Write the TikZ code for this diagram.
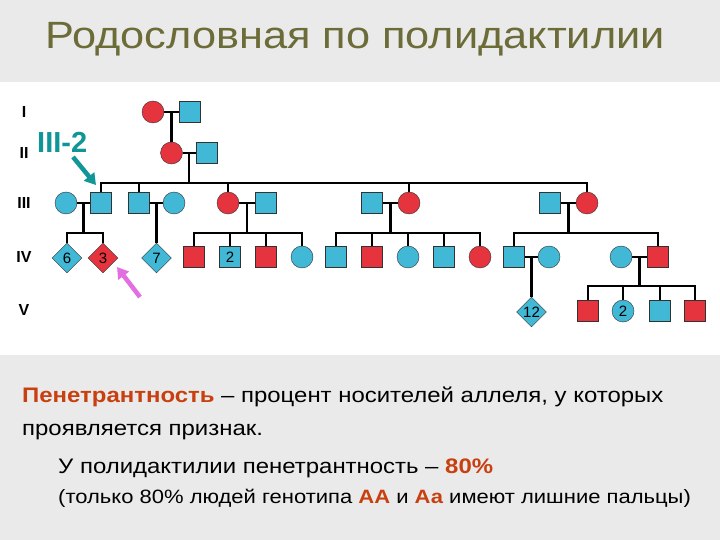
\documentclass[tikz,border=0pt]{standalone}
\usepackage{fontspec}
\setmainfont{Liberation Sans}
\newfontfamily\slidefont{Liberation Sans}[FakeStretch=1.14]
\usetikzlibrary{shapes.geometric,arrows.meta,positioning,calc}
\definecolor{PanelGray}{RGB}{234,234,234}
\definecolor{TitleOlive}{RGB}{108,108,56}
\definecolor{AccentRed}{RGB}{200,64,16}
\definecolor{SymBlue}{RGB}{64,184,214}
\definecolor{SymRed}{RGB}{230,52,62}
\definecolor{EdgeGray}{RGB}{50,50,50}
\definecolor{MarkTeal}{RGB}{16,150,150}
\definecolor{MarkPink}{RGB}{226,110,226}

\tikzset{
  male/.style={rectangle, draw=EdgeGray, fill=#1, minimum size=21pt, inner sep=0pt, font=\fontsize{15}{15}\selectfont},
  female/.style={circle, draw=EdgeGray, fill=#1, minimum size=22pt, inner sep=0pt, font=\fontsize{15}{15}\selectfont},
  sibs/.style={diamond, draw=EdgeGray, fill=#1, minimum size=30pt, inner sep=0pt, font=\fontsize{15}{15}\selectfont},
  kin/.style={line width=2.2pt, black},
  gen/.style={font=\bfseries\fontsize{16}{16}\selectfont},
  pointer/.style={line width=4.5pt, -{Triangle[length=11pt,width=13pt]}},
}

\begin{document}
\begin{tikzpicture}[x=1pt, y=-1pt]
  % Background
  \fill[PanelGray] (0,0) rectangle (720,540);
  \fill[white] (0,82) rectangle (720,355);
  \useasboundingbox (0,0) rectangle (720,540);

  % Title
  \node[anchor=base west, inner sep=0pt, TitleOlive, font=\slidefont\fontsize{38}{38}\selectfont] (title) at (45,49) {Родословная по полидактилии};

  % Generation labels
  \foreach \g/\y in {I/112, II/153, III/203, IV/257, V/310}
    \node[gen] (gen\g) at (24,\y) {\g};

  % Generation I and II
  \node[female=SymRed] (I1) at (153,112) {};
  \node[male=SymBlue] (I2) at (190,112) {};
  \node[female=SymRed] (II1) at (171.5,153) {};
  \node[male=SymBlue] (II2) at (207,153) {};

  % Generation III
  \node[female=SymBlue] (III1) at (66,203) {};
  \node[male=SymBlue] (III2) at (101,203) {};
  \node[male=SymBlue] (III3) at (139,203) {};
  \node[female=SymBlue] (III4) at (174,203) {};
  \node[female=SymRed] (III5) at (228,203) {};
  \node[male=SymBlue] (III6) at (266,203) {};
  \node[male=SymBlue] (III7) at (372,203) {};
  \node[female=SymRed] (III8) at (409,203) {};
  \node[male=SymBlue] (III9) at (550,203) {};
  \node[female=SymRed] (III10) at (587,203) {};

  % Generation IV
  \node[sibs=SymBlue] (IV1) at (67,258) {6};
  \node[sibs=SymRed] (IV2) at (103,258) {3};
  \node[sibs=SymBlue] (IV3) at (156.5,258) {7};
  \node[male=SymRed] (IV4) at (194,257) {};
  \node[male=SymBlue] (IV5) at (230,257) {2};
  \node[male=SymRed] (IV6) at (266,257) {};
  \node[female=SymBlue] (IV7) at (302,257) {};
  \node[male=SymBlue] (IV8) at (336,257) {};
  \node[male=SymRed] (IV9) at (372,257) {};
  \node[female=SymBlue] (IV10) at (408,257) {};
  \node[male=SymBlue] (IV11) at (444,257) {};
  \node[female=SymRed] (IV12) at (480,257) {};
  \node[male=SymBlue] (IV13) at (514,257) {};
  \node[female=SymBlue] (IV14) at (549,257) {};
  \node[female=SymBlue] (IV15) at (621,257) {};
  \node[male=SymRed] (IV16) at (658,257) {};

  % Generation V
  \node[sibs=SymBlue] (V1) at (531.5,312) {12};
  \node[male=SymRed] (V2) at (588,311) {};
  \node[female=SymBlue] (V3) at (623,311) {2};
  \node[male=SymBlue] (V4) at (660,311) {};
  \node[male=SymRed] (V5) at (695,311) {};

  % Sibship levels
  \coordinate (sIII) at (0,183);
  \coordinate (sIV) at (0,233);
  \coordinate (sV) at (0,286);

  % Couples
  \foreach \a/\b/\m in {I1/I2/mI, II1/II2/mII, III1/III2/m12, III3/III4/m34,
      III5/III6/m56, III7/III8/m78, III9/III10/m910, IV13/IV14/m1314, IV15/IV16/m1516} {
    \draw[kin] (\a) -- (\b);
    \coordinate (\m) at ($(\a)!0.5!(\b)$);
  }

  % Descent lines
  \draw[kin] (mI) -- (II1.north);
  \draw[kin] (m34) -- (IV3.north);
  \draw[kin] (m1314) -- (V1.north);
  \foreach \m/\l/\r/\s in {mII/III2/III10/sIII, m12/IV1/IV2/sIV, m56/IV4/IV7/sIV,
      m78/IV8/IV12/sIV, m910/IV13/IV16/sIV, m1516/V2/V5/sV} {
    \draw[kin] (\m) -- (\m |- \s);
    \draw[kin] ([xshift=-1.1pt]\l.north |- \s) -- ([xshift=1.1pt]\r.north |- \s);
  }
  \foreach \k/\s in {III2/sIII, III3/sIII, III5/sIII, III8/sIII, III10/sIII,
      IV1/sIV, IV2/sIV, IV4/sIV, IV5/sIV, IV6/sIV, IV7/sIV, IV8/sIV, IV9/sIV,
      IV10/sIV, IV11/sIV, IV12/sIV, IV13/sIV, IV16/sIV,
      V2/sV, V3/sV, V4/sV, V5/sV}
    \draw[kin] (\k.north) -- (\k.north |- \s);

  % Proband markers
  \node[MarkTeal, font=\bfseries\fontsize{29}{29}\selectfont, anchor=base west, inner sep=0pt] (lblIII2) at (37,153) {III-2};
  \coordinate (tailT) at (73,157);
  \coordinate (tipT) at (96,185);
  \draw[pointer, MarkTeal] (tailT) -- (tipT);
  \coordinate (tailP) at (140,297);
  \coordinate (tipP) at (117,267);
  \draw[pointer, MarkPink] (tailP) -- (tipP);

  % Text
  \node[anchor=base west, inner sep=0pt, font=\slidefont\fontsize{21}{21}\selectfont] (line1) at (22,402)
    {\textcolor{AccentRed}{\bfseries Пенетрантность} – процент носителей аллеля, у которых};
  \node[anchor=base west, inner sep=0pt, font=\slidefont\fontsize{21}{21}\selectfont] (line2) at (22,435)
    {проявляется признак.};
  \node[anchor=base west, inner sep=0pt, font=\slidefont\fontsize{21}{21}\selectfont] (line3) at (58,473)
    {У полидактилии пенетрантность – \textcolor{AccentRed}{\bfseries 80\%}};
  \node[anchor=base west, inner sep=0pt, font=\slidefont\fontsize{19.3}{19.3}\selectfont] (line4) at (58,503)
    {(только 80\% людей генотипа \textcolor{AccentRed}{\bfseries АА} и \textcolor{AccentRed}{\bfseries Аа} имеют лишние пальцы)};
\end{tikzpicture}
\end{document}
